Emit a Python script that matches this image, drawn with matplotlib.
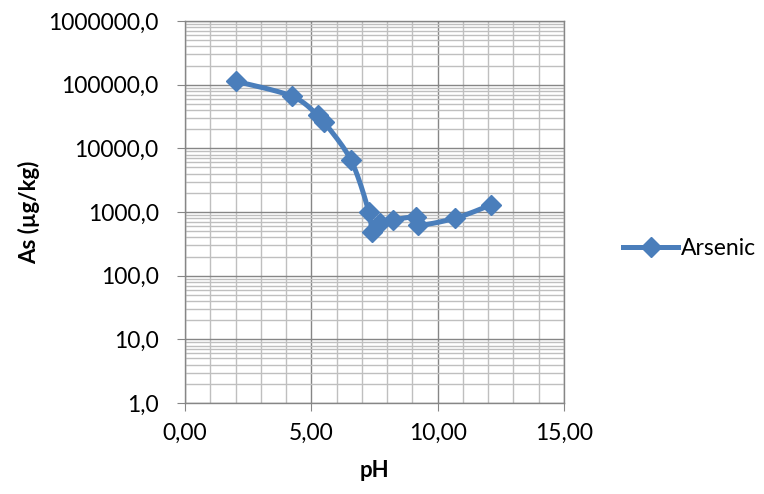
"""
Arsenic concentration vs pH (log scale), Excel-style chart
"""
import matplotlib
matplotlib.use('Agg')
import matplotlib.pyplot as plt
import numpy as np
from matplotlib.ticker import FuncFormatter, LogLocator, MultipleLocator

# data
ph = [2.02, 4.23, 5.26, 5.50, 6.57, 7.28, 7.40, 7.72, 8.23, 9.14, 9.22, 10.70, 12.10]
arsenic = [113000, 66000, 33000, 26000, 6500, 1000, 480, 670, 750, 830, 620, 800, 1290]

series_name = 'Arsenic'
x_label = 'pH'
y_label = 'As (µg/kg)'

blue = '#4a7ebb'
major_grid = '#868686'
minor_grid = '#bfbfbf'

plt.rcParams['font.family'] = ['Lato', 'DejaVu Sans']


def catmull_rom(xs, ys, n=20):
    """Smooth curve through the points (Excel 'smoothed line' look)"""
    px = np.array(xs, dtype=float)
    py = np.array(ys, dtype=float)
    px = np.concatenate([[px[0]], px, [px[-1]]])
    py = np.concatenate([[py[0]], py, [py[-1]]])
    out_x, out_y = [], []
    t = np.linspace(0, 1, n)
    for i in range(1, len(px) - 2):
        for arr, out in ((px, out_x), (py, out_y)):
            p0, p1, p2, p3 = arr[i - 1], arr[i], arr[i + 1], arr[i + 2]
            seg = 0.5 * ((2 * p1) + (-p0 + p2) * t
                         + (2 * p0 - 5 * p1 + 4 * p2 - p3) * t ** 2
                         + (-p0 + 3 * p1 - 3 * p2 + p3) * t ** 3)
            out.extend(seg)
    return np.array(out_x), np.array(out_y)


fig = plt.figure(figsize=(7.64, 4.94), dpi=100)
ax = fig.add_axes([185 / 764, 91 / 494, 379 / 764, 382 / 494])

# smooth in (x, log y) space; scale x so both axes weigh similar on screen
sx, sy = catmull_rom(np.array(ph) / 2.5, np.log10(arsenic))
ax.plot(sx * 2.5, 10 ** sy, color=blue, linewidth=3.6, solid_capstyle='round', zorder=3)
ax.plot(ph, arsenic, linestyle='none', marker='D', markersize=10,
        color=blue, zorder=4)

ax.set_yscale('log')
ax.set_xlim(0, 15)
ax.set_ylim(1, 1e6)

ax.xaxis.set_major_locator(MultipleLocator(5))
ax.xaxis.set_minor_locator(MultipleLocator(1))
ax.yaxis.set_major_locator(LogLocator(base=10, numticks=10))
ax.yaxis.set_minor_locator(LogLocator(base=10, subs=np.arange(2, 10), numticks=20))

ax.xaxis.set_major_formatter(FuncFormatter(lambda v, p: f'{v:.2f}'.replace('.', ',')))
ax.yaxis.set_major_formatter(FuncFormatter(lambda v, p: f'{v:.1f}'.replace('.', ',')))
ax.yaxis.set_minor_formatter(FuncFormatter(lambda v, p: ''))

ax.grid(True, which='major', color=major_grid, linewidth=1.0)
ax.grid(True, which='minor', color=minor_grid, linewidth=1.0)
ax.set_axisbelow(True)

ax.tick_params(which='major', direction='out', length=6, color=major_grid,
               labelsize=16.5)
ax.tick_params(which='minor', length=0)
ax.tick_params(axis='x', pad=8)
ax.tick_params(axis='y', pad=13)
for side in ['top', 'right', 'left', 'bottom']:
    ax.spines[side].set_color(major_grid)
    ax.spines[side].set_linewidth(1.0)

ax.set_xlabel(x_label, fontsize=16, fontweight='bold', labelpad=12)
ax.set_ylabel(y_label, fontsize=16, fontweight='bold', labelpad=6)

handle = plt.Line2D([], [], color=blue, linewidth=3.6, marker='D', markersize=10)
fig.legend([handle], [series_name], loc='center left', bbox_to_anchor=(0.789, 0.497),
           frameon=False, fontsize=16.5, handlelength=2.4, handletextpad=0.1)

plt.savefig('out.png', dpi=100)
plt.close()
